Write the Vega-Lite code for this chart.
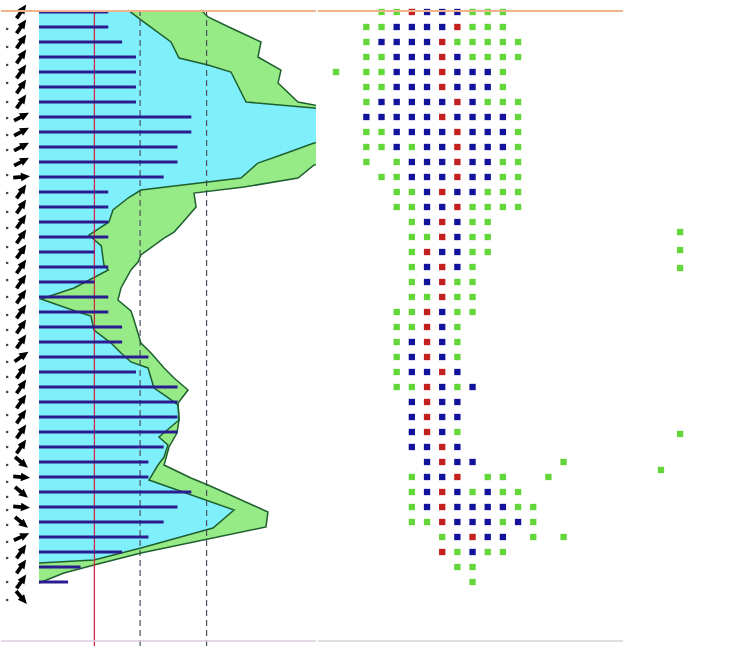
{
  "$schema": "https://vega.github.io/schema/vega-lite/v6.json",
  "padding": 0,
  "spacing": 0,
  "background": "white",
  "config": {"view": {"stroke": null}},
  "datasets": {
    "outer": [{"v":11.7,"r":-0.13},{"v":12.2,"r":0.33},{"v":13.86,"r":1.07},{"v":16.03,"r":2.0},{"v":15.81,"r":3.0},{"v":17.47,"r":3.87},{"v":17.26,"r":4.73},{"v":18.7,"r":6.0},{"v":19.86,"r":6.2},{"v":21.8,"r":6.33},{"v":21.8,"r":10.0},{"v":19.86,"r":10.2},{"v":18.7,"r":11.07},{"v":14.8,"r":11.67},{"v":11.19,"r":12.07},{"v":11.34,"r":13.0},{"v":10.4,"r":14.0},{"v":9.75,"r":14.67},{"v":9.03,"r":15.07},{"v":7.36,"r":16.2},{"v":7.15,"r":16.67},{"v":6.64,"r":17.2},{"v":5.92,"r":18.4},{"v":5.7,"r":19.2},{"v":6.64,"r":19.93},{"v":6.86,"r":20.53},{"v":7.36,"r":22.07},{"v":8.09,"r":22.73},{"v":9.03,"r":23.73},{"v":9.75,"r":24.4},{"v":10.76,"r":25.2},{"v":10.04,"r":26.07},{"v":10.11,"r":27.2},{"v":9.96,"r":28.07},{"v":9.39,"r":29.0},{"v":9.03,"r":30.2},{"v":10.97,"r":31.07},{"v":12.2,"r":31.53},{"v":16.53,"r":33.33},{"v":16.39,"r":34.33},{"v":7.36,"r":36.07},{"v":3.97,"r":36.87},{"v":1.8,"r":37.4},{"v":0,"r":38.07}],
    "inner": [{"v":6.43,"r":-0.13},{"v":7.36,"r":0.53},{"v":9.53,"r":2.0},{"v":10.11,"r":3.07},{"v":12.2,"r":3.53},{"v":13.86,"r":4.0},{"v":14.95,"r":6.0},{"v":19.86,"r":6.4},{"v":21.8,"r":6.53},{"v":21.8,"r":8.6},{"v":19.86,"r":8.73},{"v":17.47,"r":9.53},{"v":15.81,"r":10.07},{"v":14.58,"r":11.07},{"v":7.36,"r":11.87},{"v":6.43,"r":12.4},{"v":5.34,"r":13.2},{"v":5.05,"r":14.0},{"v":3.61,"r":14.87},{"v":4.5,"r":15.6},{"v":4.69,"r":16.87},{"v":5.0,"r":17.2},{"v":2.53,"r":18.4},{"v":0.14,"r":19.13},{"v":2.82,"r":20.0},{"v":3.75,"r":20.27},{"v":3.97,"r":21.2},{"v":5.2,"r":22.07},{"v":5.92,"r":22.73},{"v":6.64,"r":23.33},{"v":7.87,"r":23.73},{"v":8.3,"r":25.07},{"v":9.03,"r":25.53},{"v":10.04,"r":26.2},{"v":10.11,"r":27.2},{"v":8.66,"r":28.33},{"v":9.31,"r":28.87},{"v":9.03,"r":29.67},{"v":8.59,"r":30.2},{"v":7.94,"r":31.2},{"v":14.08,"r":33.2},{"v":12.56,"r":34.4},{"v":7.36,"r":35.73},{"v":3.97,"r":36.53},{"v":0,"r":36.73}],
    "bars": [{"r":0,"v":5},{"r":1,"v":5},{"r":2,"v":6},{"r":3,"v":7},{"r":4,"v":7},{"r":5,"v":7},{"r":6,"v":7},{"r":7,"v":11},{"r":8,"v":11},{"r":9,"v":10},{"r":10,"v":10},{"r":11,"v":9},{"r":12,"v":5},{"r":13,"v":5},{"r":14,"v":5},{"r":15,"v":5},{"r":16,"v":4},{"r":17,"v":5},{"r":18,"v":4},{"r":19,"v":5},{"r":20,"v":5},{"r":21,"v":6},{"r":22,"v":6},{"r":23,"v":7.9},{"r":24,"v":7},{"r":25,"v":10},{"r":26,"v":10},{"r":27,"v":10},{"r":28,"v":10},{"r":29,"v":9},{"r":30,"v":7.9},{"r":31,"v":7.9},{"r":32,"v":11},{"r":33,"v":10},{"r":34,"v":9},{"r":35,"v":7.9},{"r":36,"v":6},{"r":37,"v":3},{"r":38,"v":2.1}],
    "arrows": [{"r":0,"a":35},{"r":1,"a":35},{"r":2,"a":35},{"r":3,"a":35},{"r":4,"a":35},{"r":5,"a":35},{"r":6,"a":35},{"r":7,"a":62},{"r":8,"a":62},{"r":9,"a":62},{"r":10,"a":62},{"r":11,"a":85},{"r":12,"a":35},{"r":13,"a":35},{"r":14,"a":35},{"r":15,"a":35},{"r":16,"a":35},{"r":17,"a":35},{"r":18,"a":35},{"r":19,"a":35},{"r":20,"a":35},{"r":21,"a":35},{"r":22,"a":35},{"r":23,"a":55},{"r":24,"a":35},{"r":25,"a":35},{"r":26,"a":35},{"r":27,"a":35},{"r":28,"a":35},{"r":29,"a":35},{"r":30,"a":130},{"r":31,"a":95},{"r":32,"a":130},{"r":33,"a":95},{"r":34,"a":130},{"r":35,"a":65},{"r":36,"a":35},{"r":37,"a":35},{"r":38,"a":35},{"r":39,"a":140}],
    "ticks": [{"r":1.13},{"r":2.33},{"r":3.53},{"r":4.73},{"r":6.0},{"r":7.07},{"r":8.2},{"r":9.2},{"r":10.87},{"r":12.07},{"r":13.33},{"r":14.4},{"r":15.67},{"r":16.73},{"r":17.87},{"r":19.0},{"r":20.2},{"r":21.2},{"r":22.2},{"r":23.33},{"r":24.33},{"r":25.33},{"r":26.87},{"r":28.0},{"r":29.0},{"r":30.2},{"r":31.33},{"r":32.33},{"r":33.2},{"r":34.2},{"r":35.33},{"r":36.4},{"r":38.0},{"r":39.2}],
    "redref": [{"v":4.0}],
    "dashref": [{"v":7.3},{"v":12.1}],
    "frame": [{"r":-0.067,"kind":"top"},{"r":41.93,"kind":"bottom"}],
    "dots": [
      {"r":0,"c":3,"k":"g"},{"r":0,"c":4,"k":"g"},{"r":0,"c":5,"k":"r"},{"r":0,"c":6,"k":"b"},{"r":0,"c":7,"k":"b"},{"r":0,"c":8,"k":"b"},{"r":0,"c":9,"k":"g"},{"r":0,"c":10,"k":"g"},{"r":0,"c":11,"k":"g"},
      {"r":1,"c":2,"k":"g"},{"r":1,"c":3,"k":"g"},{"r":1,"c":4,"k":"b"},{"r":1,"c":5,"k":"b"},{"r":1,"c":6,"k":"b"},{"r":1,"c":7,"k":"b"},{"r":1,"c":8,"k":"r"},{"r":1,"c":9,"k":"g"},{"r":1,"c":10,"k":"g"},{"r":1,"c":11,"k":"g"},
      {"r":2,"c":2,"k":"g"},{"r":2,"c":3,"k":"b"},{"r":2,"c":4,"k":"b"},{"r":2,"c":5,"k":"b"},{"r":2,"c":6,"k":"b"},{"r":2,"c":7,"k":"r"},{"r":2,"c":8,"k":"g"},{"r":2,"c":9,"k":"g"},{"r":2,"c":10,"k":"g"},{"r":2,"c":11,"k":"g"},{"r":2,"c":12,"k":"g"},
      {"r":3,"c":2,"k":"g"},{"r":3,"c":3,"k":"g"},{"r":3,"c":4,"k":"b"},{"r":3,"c":5,"k":"b"},{"r":3,"c":6,"k":"b"},{"r":3,"c":7,"k":"r"},{"r":3,"c":8,"k":"b"},{"r":3,"c":9,"k":"g"},{"r":3,"c":10,"k":"g"},{"r":3,"c":11,"k":"g"},{"r":3,"c":12,"k":"g"},
      {"r":4,"c":0,"k":"g"},{"r":4,"c":2,"k":"g"},{"r":4,"c":3,"k":"g"},{"r":4,"c":4,"k":"b"},{"r":4,"c":5,"k":"b"},{"r":4,"c":6,"k":"b"},{"r":4,"c":7,"k":"r"},{"r":4,"c":8,"k":"b"},{"r":4,"c":9,"k":"b"},{"r":4,"c":10,"k":"b"},{"r":4,"c":11,"k":"g"},
      {"r":5,"c":2,"k":"g"},{"r":5,"c":3,"k":"g"},{"r":5,"c":4,"k":"b"},{"r":5,"c":5,"k":"b"},{"r":5,"c":6,"k":"b"},{"r":5,"c":7,"k":"r"},{"r":5,"c":8,"k":"b"},{"r":5,"c":9,"k":"b"},{"r":5,"c":10,"k":"b"},{"r":5,"c":11,"k":"g"},
      {"r":6,"c":2,"k":"g"},{"r":6,"c":3,"k":"b"},{"r":6,"c":4,"k":"b"},{"r":6,"c":5,"k":"b"},{"r":6,"c":6,"k":"b"},{"r":6,"c":7,"k":"b"},{"r":6,"c":8,"k":"r"},{"r":6,"c":9,"k":"b"},{"r":6,"c":10,"k":"g"},{"r":6,"c":11,"k":"g"},{"r":6,"c":12,"k":"g"},
      {"r":7,"c":2,"k":"b"},{"r":7,"c":3,"k":"b"},{"r":7,"c":4,"k":"b"},{"r":7,"c":5,"k":"b"},{"r":7,"c":6,"k":"b"},{"r":7,"c":7,"k":"r"},{"r":7,"c":8,"k":"b"},{"r":7,"c":9,"k":"b"},{"r":7,"c":10,"k":"b"},{"r":7,"c":11,"k":"b"},{"r":7,"c":12,"k":"g"},
      {"r":8,"c":2,"k":"g"},{"r":8,"c":3,"k":"g"},{"r":8,"c":4,"k":"b"},{"r":8,"c":5,"k":"b"},{"r":8,"c":6,"k":"b"},{"r":8,"c":7,"k":"b"},{"r":8,"c":8,"k":"r"},{"r":8,"c":9,"k":"b"},{"r":8,"c":10,"k":"b"},{"r":8,"c":11,"k":"b"},{"r":8,"c":12,"k":"g"},
      {"r":9,"c":2,"k":"g"},{"r":9,"c":3,"k":"g"},{"r":9,"c":4,"k":"b"},{"r":9,"c":5,"k":"g"},{"r":9,"c":6,"k":"b"},{"r":9,"c":7,"k":"b"},{"r":9,"c":8,"k":"r"},{"r":9,"c":9,"k":"b"},{"r":9,"c":10,"k":"b"},{"r":9,"c":11,"k":"b"},{"r":9,"c":12,"k":"g"},
      {"r":10,"c":2,"k":"g"},{"r":10,"c":4,"k":"g"},{"r":10,"c":5,"k":"b"},{"r":10,"c":6,"k":"b"},{"r":10,"c":7,"k":"b"},{"r":10,"c":8,"k":"r"},{"r":10,"c":9,"k":"b"},{"r":10,"c":10,"k":"b"},{"r":10,"c":11,"k":"g"},{"r":10,"c":12,"k":"g"},
      {"r":11,"c":3,"k":"g"},{"r":11,"c":4,"k":"g"},{"r":11,"c":5,"k":"b"},{"r":11,"c":6,"k":"b"},{"r":11,"c":7,"k":"b"},{"r":11,"c":8,"k":"r"},{"r":11,"c":9,"k":"b"},{"r":11,"c":10,"k":"b"},{"r":11,"c":11,"k":"g"},{"r":11,"c":12,"k":"g"},
      {"r":12,"c":4,"k":"g"},{"r":12,"c":5,"k":"g"},{"r":12,"c":6,"k":"b"},{"r":12,"c":7,"k":"r"},{"r":12,"c":8,"k":"b"},{"r":12,"c":9,"k":"b"},{"r":12,"c":10,"k":"g"},{"r":12,"c":11,"k":"g"},{"r":12,"c":12,"k":"g"},
      {"r":13,"c":4,"k":"g"},{"r":13,"c":5,"k":"g"},{"r":13,"c":6,"k":"b"},{"r":13,"c":7,"k":"b"},{"r":13,"c":8,"k":"r"},{"r":13,"c":9,"k":"g"},{"r":13,"c":10,"k":"g"},{"r":13,"c":11,"k":"g"},{"r":13,"c":12,"k":"g"},
      {"r":14,"c":5,"k":"g"},{"r":14,"c":6,"k":"b"},{"r":14,"c":7,"k":"r"},{"r":14,"c":8,"k":"b"},{"r":14,"c":9,"k":"g"},{"r":14,"c":10,"k":"g"},
      {"r":15,"c":5,"k":"g"},{"r":15,"c":6,"k":"g"},{"r":15,"c":7,"k":"r"},{"r":15,"c":8,"k":"b"},{"r":15,"c":9,"k":"g"},{"r":15,"c":10,"k":"g"},
      {"r":16,"c":5,"k":"g"},{"r":16,"c":6,"k":"r"},{"r":16,"c":7,"k":"b"},{"r":16,"c":8,"k":"b"},{"r":16,"c":9,"k":"g"},{"r":16,"c":10,"k":"g"},
      {"r":17,"c":5,"k":"g"},{"r":17,"c":6,"k":"b"},{"r":17,"c":7,"k":"r"},{"r":17,"c":8,"k":"b"},{"r":17,"c":9,"k":"g"},
      {"r":18,"c":5,"k":"g"},{"r":18,"c":6,"k":"b"},{"r":18,"c":7,"k":"r"},{"r":18,"c":8,"k":"g"},{"r":18,"c":9,"k":"g"},
      {"r":19,"c":5,"k":"g"},{"r":19,"c":6,"k":"g"},{"r":19,"c":7,"k":"r"},{"r":19,"c":8,"k":"g"},{"r":19,"c":9,"k":"g"},
      {"r":20,"c":4,"k":"g"},{"r":20,"c":5,"k":"g"},{"r":20,"c":6,"k":"r"},{"r":20,"c":7,"k":"b"},{"r":20,"c":8,"k":"g"},{"r":20,"c":9,"k":"g"},
      {"r":21,"c":4,"k":"g"},{"r":21,"c":5,"k":"g"},{"r":21,"c":6,"k":"r"},{"r":21,"c":7,"k":"b"},{"r":21,"c":8,"k":"g"},
      {"r":22,"c":4,"k":"g"},{"r":22,"c":5,"k":"b"},{"r":22,"c":6,"k":"r"},{"r":22,"c":7,"k":"b"},{"r":22,"c":8,"k":"g"},
      {"r":23,"c":4,"k":"g"},{"r":23,"c":5,"k":"b"},{"r":23,"c":6,"k":"r"},{"r":23,"c":7,"k":"b"},{"r":23,"c":8,"k":"g"},
      {"r":24,"c":4,"k":"g"},{"r":24,"c":5,"k":"b"},{"r":24,"c":6,"k":"b"},{"r":24,"c":7,"k":"r"},{"r":24,"c":8,"k":"b"},
      {"r":25,"c":4,"k":"g"},{"r":25,"c":5,"k":"g"},{"r":25,"c":6,"k":"r"},{"r":25,"c":7,"k":"b"},{"r":25,"c":8,"k":"g"},{"r":25,"c":9,"k":"b"},
      {"r":26,"c":5,"k":"b"},{"r":26,"c":6,"k":"r"},{"r":26,"c":7,"k":"b"},{"r":26,"c":8,"k":"b"},
      {"r":27,"c":5,"k":"b"},{"r":27,"c":6,"k":"r"},{"r":27,"c":7,"k":"b"},{"r":27,"c":8,"k":"b"},
      {"r":28,"c":5,"k":"b"},{"r":28,"c":6,"k":"r"},{"r":28,"c":7,"k":"b"},{"r":28,"c":8,"k":"g"},
      {"r":29,"c":5,"k":"b"},{"r":29,"c":6,"k":"b"},{"r":29,"c":7,"k":"r"},{"r":29,"c":8,"k":"b"},
      {"r":30,"c":6,"k":"b"},{"r":30,"c":7,"k":"r"},{"r":30,"c":8,"k":"b"},{"r":30,"c":9,"k":"b"},{"r":30,"c":15,"k":"g"},
      {"r":31,"c":5,"k":"g"},{"r":31,"c":6,"k":"b"},{"r":31,"c":7,"k":"b"},{"r":31,"c":8,"k":"r"},{"r":31,"c":10,"k":"g"},{"r":31,"c":11,"k":"g"},{"r":31,"c":14,"k":"g"},
      {"r":32,"c":5,"k":"g"},{"r":32,"c":6,"k":"b"},{"r":32,"c":7,"k":"r"},{"r":32,"c":8,"k":"b"},{"r":32,"c":9,"k":"g"},{"r":32,"c":10,"k":"b"},{"r":32,"c":11,"k":"g"},{"r":32,"c":12,"k":"g"},
      {"r":33,"c":5,"k":"g"},{"r":33,"c":6,"k":"b"},{"r":33,"c":7,"k":"r"},{"r":33,"c":8,"k":"b"},{"r":33,"c":9,"k":"b"},{"r":33,"c":10,"k":"b"},{"r":33,"c":11,"k":"b"},{"r":33,"c":12,"k":"g"},{"r":33,"c":13,"k":"g"},
      {"r":34,"c":5,"k":"g"},{"r":34,"c":6,"k":"g"},{"r":34,"c":7,"k":"r"},{"r":34,"c":8,"k":"b"},{"r":34,"c":9,"k":"b"},{"r":34,"c":10,"k":"b"},{"r":34,"c":11,"k":"g"},{"r":34,"c":12,"k":"b"},{"r":34,"c":13,"k":"g"},
      {"r":35,"c":7,"k":"g"},{"r":35,"c":8,"k":"b"},{"r":35,"c":9,"k":"r"},{"r":35,"c":10,"k":"b"},{"r":35,"c":11,"k":"b"},{"r":35,"c":13,"k":"g"},{"r":35,"c":15,"k":"g"},
      {"r":36,"c":7,"k":"r"},{"r":36,"c":8,"k":"g"},{"r":36,"c":9,"k":"b"},{"r":36,"c":10,"k":"g"},{"r":36,"c":11,"k":"g"},
      {"r":37,"c":8,"k":"g"},{"r":37,"c":9,"k":"g"},
      {"r":38,"c":9,"k":"g"},
      {"r":14.67,"c":22.68,"k":"g"},{"r":15.87,"c":22.68,"k":"g"},{"r":17.07,"c":22.68,"k":"g"},{"r":28.13,"c":22.68,"k":"g"},{"r":30.53,"c":21.42,"k":"g"}
    ]
  },
  "hconcat": [
    {
      "width": 315,
      "height": 646,
      "layer": [
        {"data": {"name": "outer"}, "mark": {"type": "area", "orient": "horizontal", "color": "#97eb86", "clip": true},
         "encoding": {"x": {"field": "v", "type": "quantitative", "scale": {"domain": [-2.744, 20], "nice": false, "zero": false}, "axis": null},
                      "x2": {"datum": 0},
                      "y": {"field": "r", "type": "quantitative", "scale": {"domain": [-0.8, 42.267], "reverse": true, "nice": false, "zero": false}, "axis": null}}},
        {"data": {"name": "inner"}, "mark": {"type": "area", "orient": "horizontal", "color": "#7ff0fb", "clip": true},
         "encoding": {"x": {"field": "v", "type": "quantitative"}, "x2": {"datum": 0}, "y": {"field": "r", "type": "quantitative"}}},
        {"data": {"name": "dashref"}, "mark": {"type": "rule", "color": "#4a5060", "strokeDash": [6, 4], "strokeWidth": 1.2},
         "encoding": {"x": {"field": "v", "type": "quantitative"}, "y": {"datum": -0.13}, "y2": {"datum": 42.267}}},
        {"data": {"name": "outer"}, "mark": {"type": "line", "color": "#1f5f2f", "strokeWidth": 1.5, "clip": true},
         "encoding": {"x": {"field": "v", "type": "quantitative"}, "y": {"field": "r", "type": "quantitative"}, "order": {"field": "r", "type": "quantitative"}}},
        {"data": {"name": "inner"}, "mark": {"type": "line", "color": "#1f5f2f", "strokeWidth": 1.5, "clip": true},
         "encoding": {"x": {"field": "v", "type": "quantitative"}, "y": {"field": "r", "type": "quantitative"}, "order": {"field": "r", "type": "quantitative"}}},
        {"data": {"name": "redref"}, "mark": {"type": "rule", "color": "#d02848", "strokeWidth": 1.3},
         "encoding": {"x": {"field": "v", "type": "quantitative"}, "y": {"datum": -0.13}, "y2": {"datum": 42.267}}},
        {"data": {"name": "bars"}, "mark": {"type": "rule", "color": "#2b1b90", "strokeWidth": 3},
         "encoding": {"x": {"field": "v", "type": "quantitative"}, "x2": {"datum": 0}, "y": {"field": "r", "type": "quantitative"}}},
        {"data": {"name": "arrows"}, "mark": {"type": "point", "shape": "arrow", "filled": true, "color": "#000000", "stroke": "#000000", "strokeWidth": 1.8, "size": 190, "opacity": 1},
         "encoding": {"x": {"datum": -1.3}, "y": {"field": "r", "type": "quantitative"}, "angle": {"field": "a", "type": "quantitative", "scale": null}}},
        {"data": {"name": "ticks"}, "mark": {"type": "point", "shape": "square", "filled": true, "color": "#444444", "size": 5, "opacity": 1},
         "encoding": {"x": {"datum": -2.3}, "y": {"field": "r", "type": "quantitative"}}},
        {"data": {"name": "frame"}, "transform": [{"filter": "datum.kind == 'top'"}], "mark": {"type": "rule", "color": "#f0b48c", "strokeWidth": 2},
         "encoding": {"y": {"field": "r", "type": "quantitative"}}},
        {"data": {"name": "frame"}, "transform": [{"filter": "datum.kind == 'bottom'"}], "mark": {"type": "rule", "color": "#dccde0", "strokeWidth": 1.5},
         "encoding": {"y": {"field": "r", "type": "quantitative"}}}
      ]
    },
    {
      "width": 434,
      "height": 646,
      "layer": [
        {"data": {"name": "dots"}, "mark": {"type": "point", "shape": "square", "filled": true, "size": 40, "opacity": 1},
         "encoding": {"x": {"field": "c", "type": "quantitative", "scale": {"domain": [-1.187, 27.42], "nice": false, "zero": false}, "axis": null},
                      "y": {"field": "r", "type": "quantitative", "scale": {"domain": [-0.8, 42.267], "reverse": true, "nice": false, "zero": false}, "axis": null},
                      "color": {"field": "k", "type": "nominal", "scale": {"domain": ["g", "b", "r"], "range": ["#63d63a", "#12129c", "#c41f1f"]}, "legend": null}}},
        {"data": {"name": "frame"}, "transform": [{"filter": "datum.kind == 'top'"}], "mark": {"type": "rule", "color": "#f0b48c", "strokeWidth": 2},
         "encoding": {"y": {"field": "r", "type": "quantitative"}, "x": {"datum": -1.187}, "x2": {"datum": 18.92}}},
        {"data": {"name": "frame"}, "transform": [{"filter": "datum.kind == 'bottom'"}], "mark": {"type": "rule", "color": "#d4d4d4", "strokeWidth": 1.5},
         "encoding": {"y": {"field": "r", "type": "quantitative"}, "x": {"datum": -1.187}, "x2": {"datum": 18.92}}}
      ]
    }
  ]
}
